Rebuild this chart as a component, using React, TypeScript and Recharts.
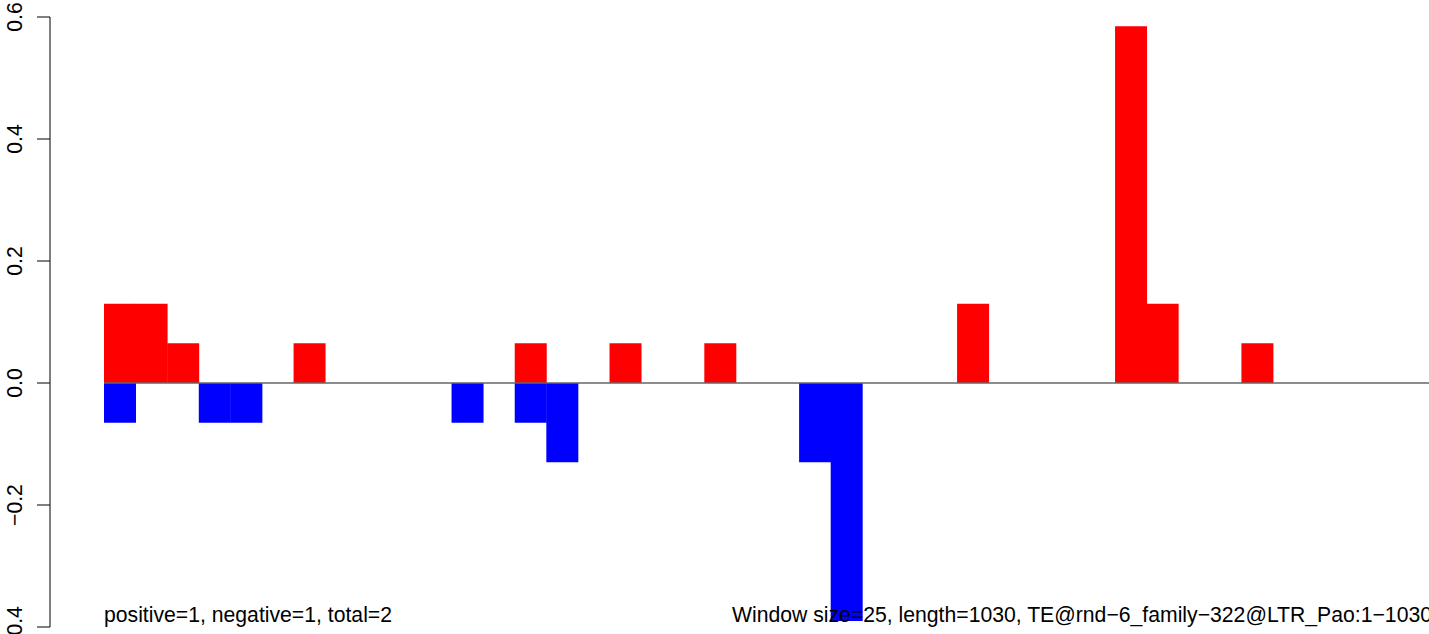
import React from "react";
import { BarChart, Bar, XAxis, YAxis, ReferenceLine } from "recharts";

// one bin per 25-bp window over 1030 bp
const bins = Array.from({ length: 42 }, (_, i) => `w${i + 1}`);

const positive = [
  0.13, 0.13, 0.065, 0, 0, 0, 0.065, 0, 0, 0, 0, 0, 0, 0.065, 0, 0, 0.065, 0, 0,
  0.065, 0, 0, 0, 0, 0, 0, 0, 0.13, 0, 0, 0, 0, 0.585, 0.13, 0, 0, 0.065, 0, 0,
  0, 0, 0,
];

const negative = [
  -0.065, 0, 0, -0.065, -0.065, 0, 0, 0, 0, 0, 0, -0.065, 0, -0.065, -0.13, 0, 0,
  0, 0, 0, 0, 0, -0.13, -0.39, 0, 0, 0, 0, 0, 0, 0, 0, 0, 0, 0, 0, 0, 0, 0, 0, 0,
  0,
];

const yTicks = [-0.4, -0.2, 0, 0.2, 0.4, 0.6];

const leftNote = "positive=1, negative=1, total=2";
const rightNote =
  "Window size=25, length=1030, TE@rnd\u22126_family\u2212322@LTR_Pao:1\u22121030";

const FONT = '"Liberation Sans", Arial, Helvetica, sans-serif';
const PAD = 54; // gap between y axis and first bar (R's 4% xlim expansion)

const data = bins.map((bin, i) => ({
  bin,
  pos: positive[i],
  neg: negative[i],
}));

const YTick = (props: any) => {
  const { y, payload } = props;
  const label = payload.value.toFixed(1).replace("-", "\u2212");
  return (
    <text
      x={22}
      y={y}
      transform={`rotate(-90, 22, ${y})`}
      textAnchor="middle"
      fontSize={21.2}
      fontFamily={FONT}
      fill="#000"
    >
      {label}
    </text>
  );
};

// zero line only spans the bars, like abline under barplot
const ZeroLine = (p: any) => (
  <line
    x1={p.x1 + PAD}
    y1={p.y1}
    x2={p.x2}
    y2={p.y2}
    stroke="#666"
    strokeWidth={1.3}
  />
);

export default function App() {
  return (
    <div
      style={{
        position: "fixed",
        left: 0,
        top: 0,
        width: 1429,
        height: 634,
        overflow: "hidden",
        background: "#fff",
      }}
    >
      <BarChart
        width={1500}
        height={634}
        data={data}
        margin={{ top: 17, right: 15, bottom: 7, left: 0 }}
        barCategoryGap={0}
        barGap={0}
        stackOffset="sign"
      >
        <XAxis dataKey="bin" hide padding={{ left: PAD, right: PAD }} />
        <YAxis
          width={50}
          domain={[-0.4, 0.6]}
          ticks={yTicks}
          allowDataOverflow
          interval={0}
          tickSize={13}
          axisLine={{ stroke: "#000", strokeWidth: 1 }}
          tickLine={{ stroke: "#000", strokeWidth: 1 }}
          tick={<YTick />}
        />
        <ReferenceLine y={0} shape={ZeroLine} />
        <Bar dataKey="pos" stackId="s" fill="#ff0000" isAnimationActive={false} />
        <Bar dataKey="neg" stackId="s" fill="#0000ff" isAnimationActive={false} />
      </BarChart>
      <svg
        width={1429}
        height={634}
        style={{ position: "absolute", left: 0, top: 0, pointerEvents: "none" }}
      >
        <text x={104} y={622} fontSize={21.2} fontFamily={FONT} fill="#000">
          {leftNote}
        </text>
        <text
          x={1432}
          y={622}
          fontSize={21.2}
          fontFamily={FONT}
          fill="#000"
          textAnchor="end"
        >
          {rightNote}
        </text>
      </svg>
    </div>
  );
}
